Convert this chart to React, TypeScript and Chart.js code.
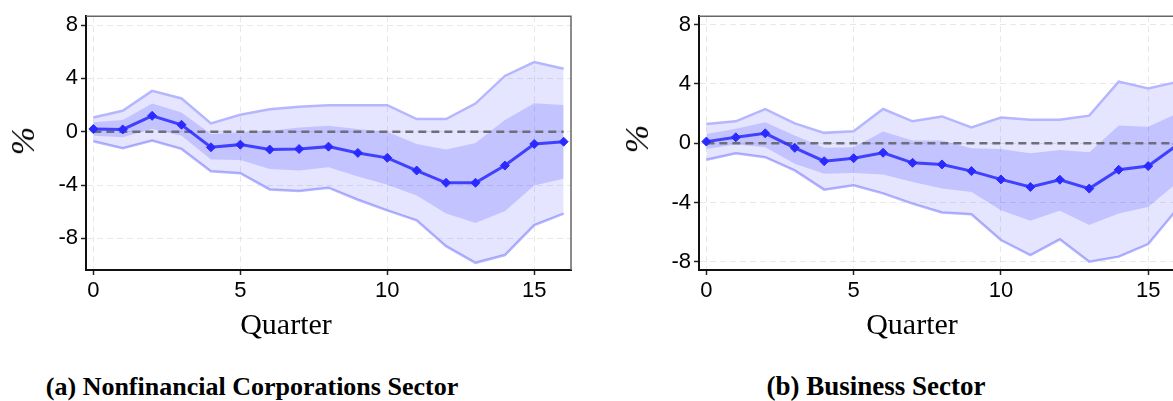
import React, { useEffect, useRef } from "react";
import { Chart, registerables } from "chart.js";

Chart.register(...registerables);

// Horizon in quarters after the shock
const quarters = [0, 1, 2, 3, 4, 5, 6, 7, 8, 9, 10, 11, 12, 13, 14, 15, 16];
const xTicks = [0, 5, 10, 15];
const yTicks = [-8, -4, 0, 4, 8];

// (a) Nonfinancial corporations sector: point response and bands (%)
const nfcResponse = [0.2, 0.17, 1.19, 0.52, -1.17, -0.97, -1.34, -1.3, -1.12, -1.59, -1.96, -2.91, -3.83, -3.83, -2.54, -0.92, -0.75];
const nfcInnerUpper = [0.7, 0.87, 2.11, 1.44, -0.17, -0.05, 0.07, 0.32, 0.45, 0.2, 0.0, -0.92, -1.34, -0.84, 0.87, 2.14, 2.01];
const nfcInnerLower = [-0.3, -0.42, 0.2, -0.3, -2.09, -2.13, -2.79, -2.91, -2.66, -3.36, -3.98, -4.78, -6.14, -6.84, -5.97, -4.03, -3.53];
const nfcOuterUpper = [1.07, 1.57, 3.06, 2.49, 0.62, 1.27, 1.69, 1.87, 1.99, 1.99, 1.99, 0.95, 0.95, 2.11, 4.18, 5.22, 4.72];
const nfcOuterLower = [-0.72, -1.24, -0.67, -1.29, -2.96, -3.11, -4.33, -4.45, -4.2, -5.1, -5.9, -6.64, -8.58, -9.83, -9.25, -7.01, -6.14];

// (b) Business sector: point response and bands (%)
const busResponse = [0.11, 0.4, 0.67, -0.31, -1.21, -1.01, -0.64, -1.32, -1.43, -1.88, -2.44, -2.95, -2.46, -3.06, -1.79, -1.54, -0.1];
const busInnerUpper = [0.63, 0.97, 1.41, 0.52, -0.31, -0.27, 0.79, 0.18, 0.18, -0.34, -0.38, -0.67, -0.45, -0.6, 1.19, 1.12, 2.03];
const busInnerLower = [-0.38, -0.09, -0.27, -1.38, -2.05, -2.01, -2.1, -2.62, -3.06, -3.29, -4.52, -5.23, -4.56, -5.52, -4.74, -4.3, -2.64];
const busOuterUpper = [1.3, 1.48, 2.31, 1.34, 0.7, 0.81, 2.31, 1.48, 1.81, 1.07, 1.74, 1.59, 1.59, 1.86, 4.16, 3.69, 4.14];
const busOuterLower = [-1.11, -0.67, -0.94, -1.83, -3.13, -2.84, -3.38, -4.07, -4.67, -4.79, -6.53, -7.54, -6.48, -7.99, -7.65, -6.8, -4.4];

const xRange = { min: -0.25, max: 16.25 };

// Thin grey frame on the top and right edges of the plot area
const framePlugin = {
  id: "topRightFrame",
  afterDraw(chart: any) {
    const { ctx, chartArea } = chart;
    ctx.save();
    ctx.strokeStyle = "#666";
    ctx.lineWidth = 1.5;
    ctx.beginPath();
    ctx.moveTo(chartArea.left, chartArea.top);
    ctx.lineTo(chartArea.right, chartArea.top);
    ctx.lineTo(chartArea.right, chartArea.bottom);
    ctx.stroke();
    ctx.restore();
  },
};

type PanelProps = {
  left: number;
  response: number[];
  innerUpper: number[];
  innerLower: number[];
  outerUpper: number[];
  outerLower: number[];
  yMin: number;
  yMax: number;
  padRight: number;
};

const CANVAS_W = 600;
const CANVAS_H = 350;

function Panel(props: PanelProps) {
  const ref = useRef<HTMLCanvasElement>(null);

  useEffect(() => {
    const pts = (vals: number[]) => quarters.map((q, i) => ({ x: q, y: vals[i] }));
    const band = "#b6b6ff";
    const none = "rgba(0,0,0,0)";
    const chart = new Chart(ref.current as HTMLCanvasElement, {
      type: "line",
      data: {
        datasets: [
          {
            data: pts(props.response),
            borderColor: "rgba(45,45,255,0.88)",
            borderWidth: 3,
            pointStyle: "rectRot",
            pointRadius: 4.5,
            pointBackgroundColor: "#2a2aff",
            pointBorderColor: "#2a2aff",
            pointBorderWidth: 1,
            fill: false,
          },
          {
            data: [
              { x: quarters[0], y: 0 },
              { x: quarters[quarters.length - 1], y: 0 },
            ],
            borderColor: "#6e6e78",
            borderWidth: 2.5,
            borderDash: [8, 5],
            pointRadius: 0,
            fill: false,
          },
          {
            data: pts(props.innerUpper),
            borderColor: none,
            borderWidth: 0,
            pointRadius: 0,
            fill: "+1",
            backgroundColor: "rgba(0,0,255,0.15)",
          },
          {
            data: pts(props.innerLower),
            borderColor: none,
            borderWidth: 0,
            pointRadius: 0,
            fill: false,
          },
          {
            data: pts(props.outerUpper),
            borderColor: band,
            borderWidth: 2.5,
            pointRadius: 0,
            fill: "+1",
            backgroundColor: "rgba(0,0,255,0.1)",
          },
          {
            data: pts(props.outerLower),
            borderColor: band,
            borderWidth: 2.5,
            pointRadius: 0,
            fill: false,
          },
        ],
      },
      options: {
        responsive: false,
        animation: false,
        events: [],
        layout: { padding: { top: 15, right: props.padRight, left: 0, bottom: 0 } },
        elements: { line: { tension: 0 } },
        plugins: { legend: { display: false }, tooltip: { enabled: false } },
        scales: {
          x: {
            type: "linear",
            min: xRange.min,
            max: xRange.max,
            afterFit: (axis: any) => {
              axis.height = 80;
            },
            afterBuildTicks: (axis: any) => {
              axis.ticks = xTicks.map((v) => ({ value: v }));
            },
            grid: {
              color: "rgba(0,0,0,0.09)",
              lineWidth: 1,
              tickLength: 5,
              tickColor: "#222",
              tickWidth: 1.5,
            },
            border: { color: "#111", width: 2, dash: [6, 4] },
            ticks: {
              autoSkip: false,
              maxRotation: 0,
              padding: 3,
              color: "#000",
              font: { family: "'Liberation Sans', Arial, sans-serif", size: 22 },
              callback: (v: any) => String(v),
            },
          },
          y: {
            type: "linear",
            min: props.yMin,
            max: props.yMax,
            afterFit: (axis: any) => {
              axis.width = 86;
            },
            afterBuildTicks: (axis: any) => {
              axis.ticks = yTicks.map((v) => ({ value: v }));
            },
            grid: {
              color: "rgba(0,0,0,0.09)",
              lineWidth: 1,
              tickLength: 5,
              tickColor: "#222",
              tickWidth: 1.5,
            },
            border: { color: "#111", width: 2, dash: [6, 4] },
            ticks: {
              autoSkip: false,
              padding: 3,
              color: "#000",
              font: { family: "'Liberation Sans', Arial, sans-serif", size: 22 },
              callback: (v: any) => String(v),
            },
          },
        },
      },
      plugins: [framePlugin],
    } as any);
    return () => chart.destroy();
  }, []);

  return (
    <canvas
      ref={ref}
      width={CANVAS_W}
      height={CANVAS_H}
      style={{ position: "absolute", left: props.left, top: 0, width: CANVAS_W, height: CANVAS_H }}
    />
  );
}

const serif = "'Liberation Serif', 'Times New Roman', serif";

function Label(props: { text: string; cx: number; baseline: number; size: number; bold?: boolean }) {
  return (
    <div
      style={{
        position: "absolute",
        left: props.cx,
        top: props.baseline - 0.8375 * props.size,
        transform: "translateX(-50%)",
        fontFamily: serif,
        fontSize: props.size,
        lineHeight: 1,
        fontWeight: props.bold ? 700 : 400,
        whiteSpace: "nowrap",
        color: "#000",
      }}
    >
      {props.text}
    </div>
  );
}

function YTitle(props: { cx: number; cy: number }) {
  return (
    <div
      style={{
        position: "absolute",
        left: props.cx,
        top: props.cy,
        transform: "translate(-50%, -50%) rotate(-90deg)",
        fontFamily: serif,
        fontStyle: "italic",
        fontSize: 34,
        lineHeight: 1,
        whiteSpace: "nowrap",
        color: "#000",
      }}
    >
      %
    </div>
  );
}

export default function App() {
  return (
    <div
      style={{
        position: "fixed",
        left: 0,
        top: 0,
        width: 1173,
        height: 401,
        overflow: "hidden",
        background: "#fff",
      }}
    >
      <Panel
        left={0}
        response={nfcResponse}
        innerUpper={nfcInnerUpper}
        innerLower={nfcInnerLower}
        outerUpper={nfcOuterUpper}
        outerLower={nfcOuterLower}
        yMin={-10.37}
        yMax={8.66}
        padRight={29}
      />
      <Panel
        left={613}
        response={busResponse}
        innerUpper={busInnerUpper}
        innerLower={busInnerLower}
        outerUpper={busOuterUpper}
        outerLower={busOuterLower}
        yMin={-8.55}
        yMax={8.57}
        padRight={28}
      />
      <YTitle cx={23} cy={141} />
      <YTitle cx={637} cy={139} />
      <Label text="Quarter" cx={286} baseline={334} size={30} />
      <Label text="Quarter" cx={912} baseline={334} size={30} />
      <Label text="(a) Nonfinancial Corporations Sector" cx={252} baseline={396} size={26} bold />
      <Label text="(b) Business Sector" cx={876} baseline={396} size={27} bold />
    </div>
  );
}
